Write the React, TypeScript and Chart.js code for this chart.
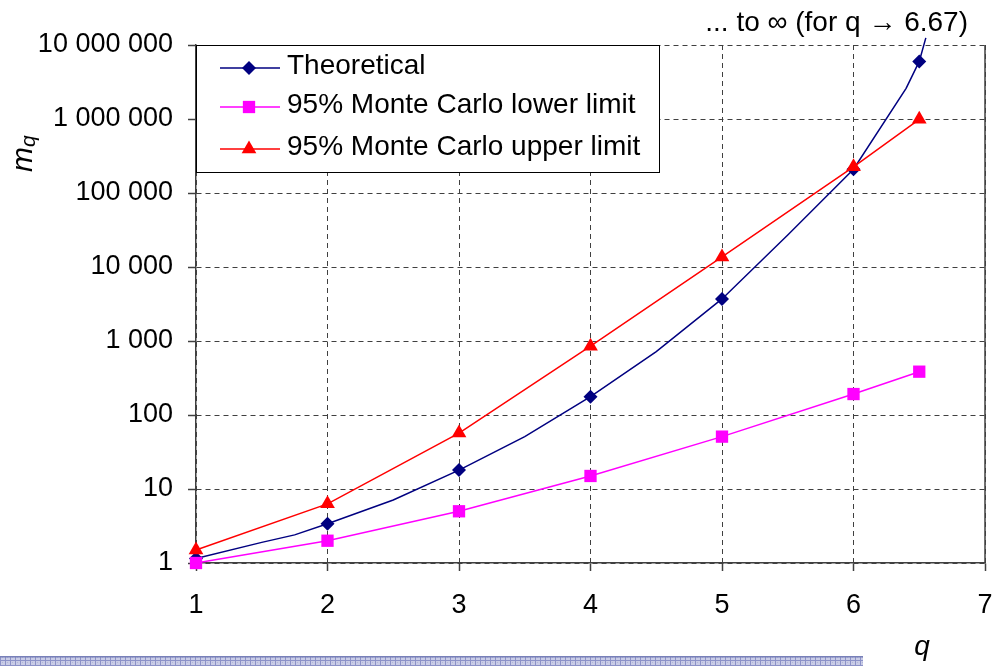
import React, { useEffect, useRef } from "react";
import { Chart, registerables } from "chart.js";

Chart.register(...registerables);

// ---- data ----
const qTheoretical = [1, 1.5, 1.75, 2, 2.5, 3, 3.5, 4, 4.5, 5, 5.5, 6, 6.4, 6.5, 6.55];
const mTheoretical = [1.15, 1.9, 2.4, 3.4, 7.1, 18, 51, 177, 720, 3700, 27000, 210000, 2600000, 6000000, 12500000];
const theoreticalMarkerQ = [1, 2, 3, 4, 5, 6, 6.5];
const qMonteCarlo = [1, 2, 3, 4, 5, 6, 6.5];
const mLower = [1, 2, 5, 15, 51, 192, 385];
const mUpper = [1.5, 6.3, 57, 850, 13700, 226000, 990000];
const xTicks = [1, 2, 3, 4, 5, 6, 7];
const yTicks = [1, 10, 100, 1000, 10000, 100000, 1000000, 10000000];
const seriesNames = ["Theoretical", "95% Monte Carlo lower limit", "95% Monte Carlo upper limit"];
const annotationText = "... to \u221E (for q \u2192 6.67)";
const xTitle = "q";
const yTitleMain = "m";
const yTitleSub = "q";

const FONT = "'Liberation Sans', Arial, sans-serif";
const NAVY = "#000080";
const MAGENTA = "#FF00FF";
const RED = "#FF0000";
const GRID = "#404040";

const fmt = (v: number) => String(Math.round(v)).replace(/\B(?=(\d{3})+(?!\d))/g, " ");

function drawMarker(ctx: CanvasRenderingContext2D, style: string, x: number, y: number, r: number, color: string) {
  ctx.save();
  ctx.fillStyle = color;
  ctx.beginPath();
  if (style === "rectRot") {
    ctx.moveTo(x, y - r);
    ctx.lineTo(x + r, y);
    ctx.lineTo(x, y + r);
    ctx.lineTo(x - r, y);
  } else if (style === "rect") {
    const s = r * Math.SQRT1_2;
    ctx.rect(x - s, y - s, 2 * s, 2 * s);
  } else {
    for (let i = 0; i < 3; i++) {
      const a = (i * 2 * Math.PI) / 3;
      const px = x + Math.sin(a) * r;
      const py = y - Math.cos(a) * r;
      if (i === 0) ctx.moveTo(px, py);
      else ctx.lineTo(px, py);
    }
  }
  ctx.closePath();
  ctx.fill();
  ctx.restore();
}

const MARKER_R = [7, 8.7, 8.5];

const decorPlugin = {
  id: "decor",
  afterDatasetsDraw(chart: any) {
    const ctx: CanvasRenderingContext2D = chart.ctx;
    const { left, top } = chart.chartArea;
    const w = 463;
    const h = 127;
    ctx.save();
    ctx.fillStyle = "#fff";
    ctx.fillRect(left, top, w, h);
    ctx.strokeStyle = "#000";
    ctx.lineWidth = 1;
    ctx.strokeRect(left + 0.5, top + 0.5, w, h);
    const rows = [23, 62, 104];
    const styles = ["rectRot", "rect", "triangle"];
    const colors = [NAVY, MAGENTA, RED];
    for (let i = 0; i < 3; i++) {
      const y = top + rows[i];
      ctx.strokeStyle = colors[i];
      ctx.lineWidth = 1.5;
      ctx.beginPath();
      ctx.moveTo(left + 24, y);
      ctx.lineTo(left + 84, y);
      ctx.stroke();
      drawMarker(ctx, styles[i], left + 53, y, MARKER_R[i], colors[i]);
      ctx.fillStyle = "#000";
      ctx.font = `28px ${FONT}`;
      ctx.textAlign = "left";
      ctx.textBaseline = "middle";
      ctx.fillText(seriesNames[i], left + 91, y - 2);
    }
    ctx.restore();
  },
  afterDraw(chart: any) {
    const ctx: CanvasRenderingContext2D = chart.ctx;
    const { right, top, bottom } = chart.chartArea;
    ctx.save();
    // solid right edge
    ctx.strokeStyle = GRID;
    ctx.lineWidth = 1.5;
    ctx.beginPath();
    ctx.moveTo(right, top);
    ctx.lineTo(right, bottom);
    ctx.stroke();
    // annotation
    ctx.fillStyle = "#000";
    ctx.font = `28px ${FONT}`;
    ctx.textAlign = "right";
    ctx.textBaseline = "alphabetic";
    ctx.fillText(annotationText, 968, 31);
    // x title
    ctx.font = `italic 28px ${FONT}`;
    ctx.textAlign = "center";
    ctx.fillText(xTitle, 922, 655);
    // y title
    ctx.save();
    ctx.translate(32, 172);
    ctx.rotate(-Math.PI / 2);
    ctx.textAlign = "left";
    ctx.font = `italic 30px ${FONT}`;
    ctx.fillText(yTitleMain, 0, 0);
    const mw = ctx.measureText(yTitleMain).width;
    ctx.font = `italic 21px ${FONT}`;
    ctx.fillText(yTitleSub, mw, 3);
    ctx.restore();
    // bottom patterned strip
    const pc = document.createElement("canvas");
    pc.width = 5;
    pc.height = 5;
    const p = pc.getContext("2d")!;
    p.fillStyle = "#c9cce6";
    p.fillRect(0, 0, 5, 5);
    p.fillStyle = "#8c92c8";
    p.fillRect(0, 0, 5, 1);
    p.fillRect(0, 0, 1, 5);
    p.fillStyle = "#b0b4da";
    p.fillRect(2, 2, 1, 1);
    const pat = ctx.createPattern(pc, "repeat")!;
    ctx.fillStyle = pat;
    ctx.fillRect(0, 657, 863, 9);
    ctx.fillStyle = "#7880b8";
    ctx.fillRect(0, 656, 863, 1.5);
    ctx.restore();
  },
};

export default function App() {
  const ref = useRef<HTMLCanvasElement>(null);
  useEffect(() => {
    document.body.style.margin = "0";
    const tickFont = { family: FONT, size: 27 };
    const gridOpts = {
      color: GRID,
      lineWidth: 1,
      drawTicks: true,
      tickLength: 8,
      tickColor: GRID,
      tickWidth: 1.5,
      tickBorderDash: [],
    };
    const borderOpts = { display: true, color: GRID, width: 1.5, dash: [5, 4] };
    const chart = new Chart(ref.current!, {
      type: "line",
      data: {
        datasets: [
          {
            label: seriesNames[0],
            data: qTheoretical.map((q, i) => ({ x: q, y: mTheoretical[i] })),
            borderColor: NAVY,
            backgroundColor: NAVY,
            borderWidth: 1.5,
            pointStyle: "rectRot",
            pointRadius: (c: any) => (theoreticalMarkerQ.includes(qTheoretical[c.dataIndex]) ? MARKER_R[0] : 0),
            pointBorderWidth: 0,
            tension: 0,
            clip: false,
            order: 2,
          },
          {
            label: seriesNames[1],
            data: qMonteCarlo.map((q, i) => ({ x: q, y: mLower[i] })),
            borderColor: MAGENTA,
            backgroundColor: MAGENTA,
            borderWidth: 1.5,
            pointStyle: "rect",
            pointRadius: MARKER_R[1],
            pointBorderWidth: 0,
            tension: 0,
            clip: false,
            order: 0,
          },
          {
            label: seriesNames[2],
            data: qMonteCarlo.map((q, i) => ({ x: q, y: mUpper[i] })),
            borderColor: RED,
            backgroundColor: RED,
            borderWidth: 1.5,
            pointStyle: "triangle",
            pointRadius: MARKER_R[2],
            pointBorderWidth: 0,
            tension: 0,
            clip: false,
            order: 1,
          },
        ],
      },
      options: {
        animation: false,
        responsive: false,
        devicePixelRatio: 1,
        layout: { padding: { top: 45, right: 11, left: 0, bottom: 0 } },
        plugins: { legend: { display: false }, tooltip: { enabled: false } },
        scales: {
          x: {
            type: "linear",
            min: 1,
            max: 7,
            afterBuildTicks: (s: any) => {
              s.ticks = xTicks.map((v) => ({ value: v }));
            },
            afterFit: (s: any) => {
              s.height = 103;
              s.paddingLeft = 0;
              s.paddingRight = 0;
            },
            ticks: { font: tickFont, color: "#000", padding: 18, maxRotation: 0, callback: (v: any) => String(v) },
            grid: gridOpts,
            border: borderOpts,
          },
          y: {
            type: "logarithmic",
            min: 1,
            max: 10000000,
            afterBuildTicks: (s: any) => {
              s.ticks = yTicks.map((v) => ({ value: v }));
            },
            afterFit: (s: any) => {
              s.width = 196;
              s.paddingTop = 0;
              s.paddingBottom = 0;
            },
            ticks: { font: tickFont, color: "#000", padding: 15, callback: (v: any) => fmt(Number(v)) },
            grid: gridOpts,
            border: borderOpts,
          },
        },
      } as any,
      plugins: [decorPlugin],
    });
    return () => chart.destroy();
  }, []);
  return (
    <div style={{ position: "absolute", left: 0, top: 0, width: 996, height: 666 }}>
      <canvas ref={ref} width={996} height={666} style={{ display: "block", width: 996, height: 666 }} />
    </div>
  );
}
